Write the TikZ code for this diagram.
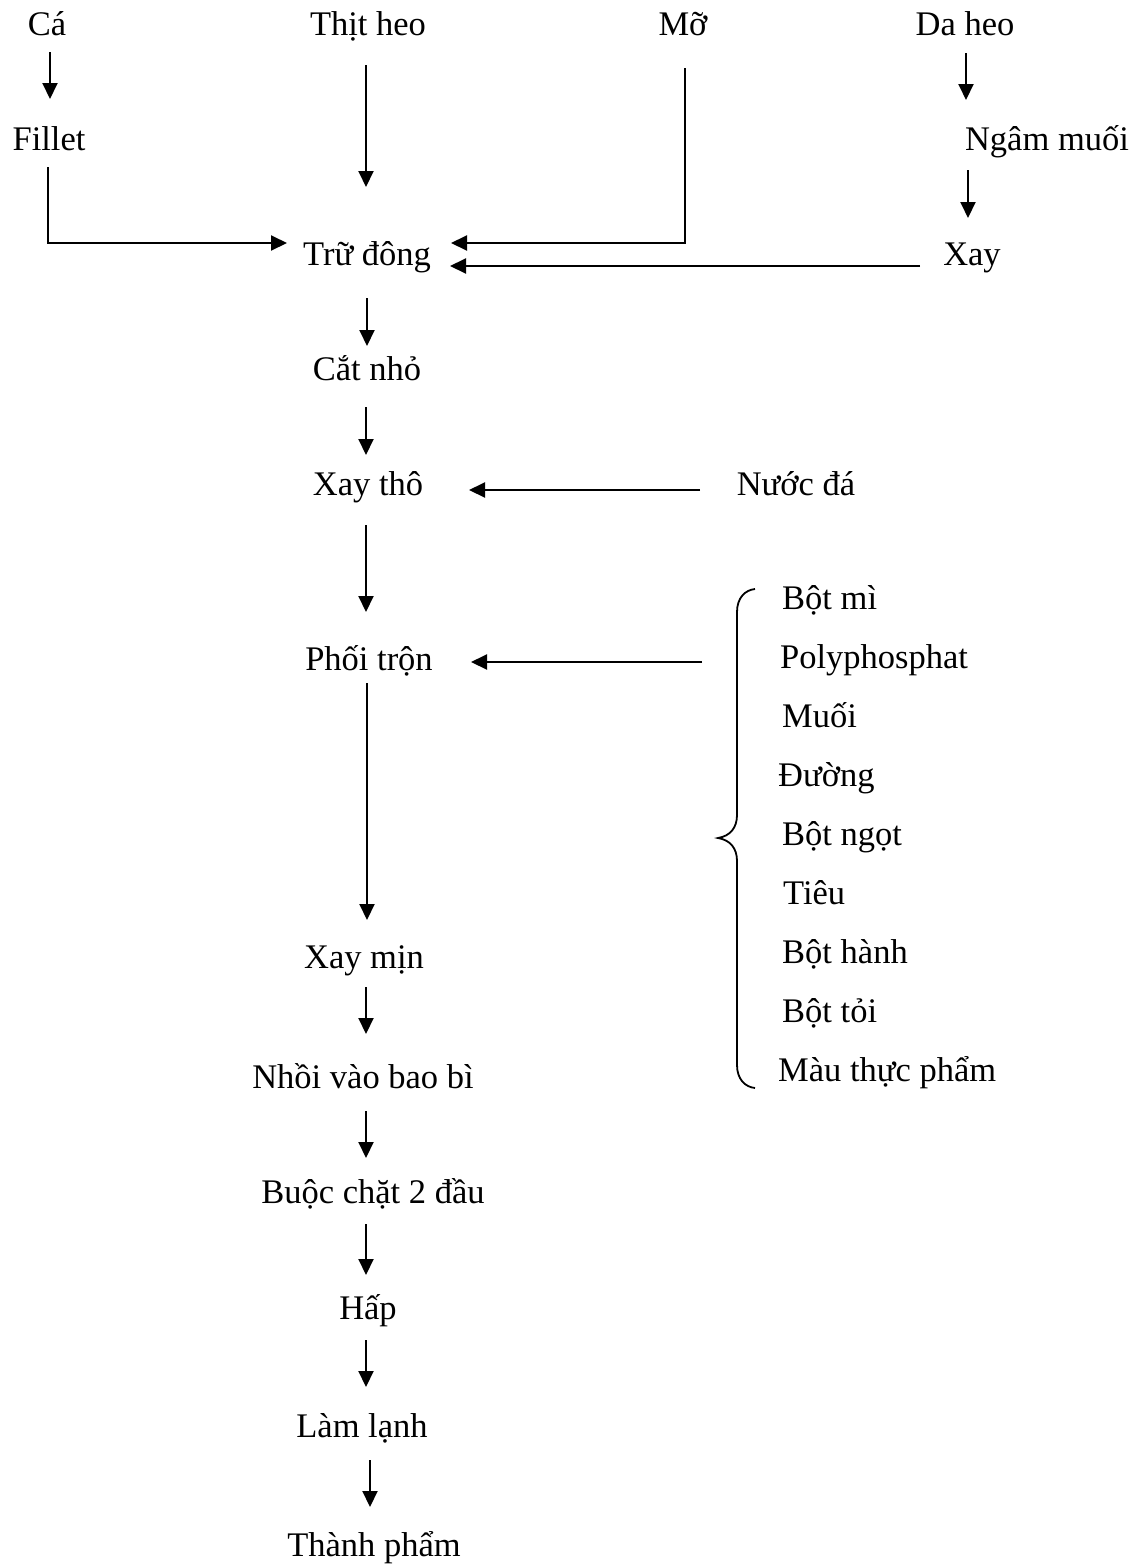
\documentclass[tikz,border=0pt]{standalone}
\usepackage{fontspec}
\setmainfont{Liberation Serif}
\usetikzlibrary{arrows.meta,calc}
\begin{document}
\begin{tikzpicture}[x=1pt,y=-1pt,
  lbl/.style={inner sep=0pt, anchor=base, font=\fontsize{34.5}{40}\selectfont},
  ing/.style={lbl, anchor=base west},
  arr/.style={line width=2pt, -{Triangle[length=16pt,width=15pt]}},
  bracestyle/.style={line width=1.8pt}]
\useasboundingbox[fill=white] (0,0) rectangle (1142,1566);
% top row
\node[lbl] (ca) at (47,35) {Cá};
\node[lbl] (thit) at (368,35) {Thịt heo};
\node[lbl] (mo) at (683,35) {Mỡ};
\node[lbl] (da) at (965,35) {Da heo};
\node[lbl] (fillet) at (49,150) {Fillet};
\node[lbl] (ngam) at (1047,150) {Ngâm muối};
\node[lbl] (tru) at (367,265) {Trữ đông};
\node[lbl] (xay) at (972,265) {Xay};
% main column
\node[lbl] (cat) at (367,380) {Cắt nhỏ};
\node[lbl] (xaytho) at (368,495) {Xay thô};
\node[lbl] (nuoc) at (796,495) {Nước đá};
\node[lbl] (phoi) at (369,670) {Phối trộn};
\node[lbl] (xaymin) at (364,968) {Xay mịn};
\node[lbl] (nhoi) at (363,1088) {Nhồi vào bao bì};
\node[lbl] (buoc) at (373,1203) {Buộc chặt 2 đầu};
\node[lbl] (hap) at (368,1319) {Hấp};
\node[lbl] (lam) at (362,1437) {Làm lạnh};
\node[lbl] (thanh) at (374,1556) {Thành phẩm};
% ingredients
\node[ing] (i1) at (782,609) {Bột mì};
\node[ing] (i2) at (780,668) {Polyphosphat};
\node[ing] (i3) at (782,727) {Muối};
\node[ing] (i4) at (778,786) {Đường};
\node[ing] (i5) at (782,845) {Bột ngọt};
\node[ing] (i6) at (783,904) {Tiêu};
\node[ing] (i7) at (782,963) {Bột hành};
\node[ing] (i8) at (782,1022) {Bột tỏi};
\node[ing] (i9) at (778,1081) {Màu thực phẩm};
% brace
\draw[bracestyle] (755,589) .. controls (745,590) and (737,598) .. (737,612)
  -- (737,815) .. controls (737,828) and (730,836) .. (718,838)
  .. controls (730,840) and (737,848) .. (737,861)
  -- (737,1065) .. controls (737,1079) and (745,1087) .. (755,1088);
% connectors
\draw[arr] ($(ca.base)+(3,17)$) -- ($(fillet.base)+(1,-51)$);
\draw[arr] ($(thit.base)+(-2,30)$) -- ($(tru.base)+(-1,-78)$);
\draw[arr] ($(fillet.base)+(-1,17)$) |- ($(tru.base)+(-80,-22)$);
\draw[arr] ($(mo.base)+(2,33)$) |- ($(tru.base)+(84,-22)$);
\draw[arr] ($(xay.base)+(-52,1)$) -- ($(tru.base)+(83,1)$);
\draw[arr] ($(da.base)+(1,18)$) -- ($(ngam.base)+(-81,-50)$);
\draw[arr] ($(ngam.base)+(-79,20)$) -- ($(xay.base)+(-4,-47)$);
\draw[arr] ($(tru.base)+(0,33)$) -- ($(cat.base)+(0,-34)$);
\draw[arr] ($(cat.base)+(-1,27)$) -- ($(xaytho.base)+(-2,-40)$);
\draw[arr] ($(nuoc.base)+(-96,-5)$) -- ($(xaytho.base)+(101,-5)$);
\draw[arr] ($(xaytho.base)+(-2,30)$) -- ($(phoi.base)+(-3,-58)$);
\draw[arr] ($(i2.base west)+(-78,-6)$) -- ($(phoi.base)+(102,-8)$);
\draw[arr] ($(phoi.base)+(-2,13)$) -- ($(xaymin.base)+(3,-48)$);
\draw[arr] ($(xaymin.base)+(2,19)$) -- ($(nhoi.base)+(3,-54)$);
\draw[arr] ($(nhoi.base)+(3,23)$) -- ($(buoc.base)+(-7,-45)$);
\draw[arr] ($(buoc.base)+(-7,21)$) -- ($(hap.base)+(-2,-44)$);
\draw[arr] ($(hap.base)+(-2,21)$) -- ($(lam.base)+(4,-50)$);
\draw[arr] ($(lam.base)+(8,23)$) -- ($(thanh.base)+(-4,-49)$);
\end{tikzpicture}
\end{document}
